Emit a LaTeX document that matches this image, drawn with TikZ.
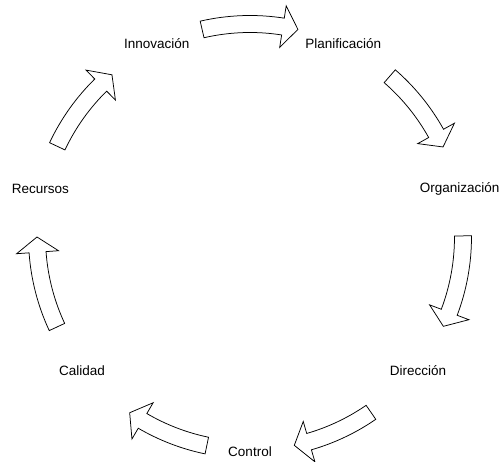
\documentclass[tikz,border=0pt]{standalone}
\usepackage{fontspec}
\setmainfont{Liberation Sans}
\usetikzlibrary{calc}
\begin{document}
\begin{tikzpicture}[x=1pt,y=1pt,
  lbl/.style={font=\fontsize{13.5}{15}\selectfont, inner sep=0pt},
  blockarrow/.style={draw=black, fill=white, line width=0.75pt, line join=miter}]
\useasboundingbox (0,0) rectangle (501,462);
\coordinate (c) at (250,225);
% labels on circle
\foreach \n/\t [count=\k from 0] in {ctrl/Control,dir/Dirección,org/Organización,plan/Planificación,inn/Innovación,rec/Recursos,cal/Calidad}{
  \pgfmathsetmacro{\ang}{-90+\k*360/7}
  \node[lbl] (\n) at ($(c)+(\ang:215)$) {\t};
}
% curved block arrows
\def\R{213}\def\w{8.5}\def\hw{21}\def\hl{4.1}
\foreach \s/\e [count=\i] in {103/77, 49/25, 0.3/-24.8, -55.4/-78, -101.7/-124.4, -155/-180, 154.8/130.4}{
  \pgfmathsetmacro{\hb}{\e+\hl}
  \pgfmathsetmacro{\ro}{\R+\w}
  \pgfmathsetmacro{\ri}{\R-\w}
  \pgfmathsetmacro{\ho}{\R+\hw}
  \pgfmathsetmacro{\hi}{\R-\hw}
  \draw[blockarrow] ($(c)+(\s:\ro)$) coordinate (a\i)
     arc[start angle=\s, end angle=\hb, radius=\ro]
     -- ($(c)+(\hb:\ho)$) -- ($(c)+(\e:\R)$) coordinate (t\i) -- ($(c)+(\hb:\hi)$)
     -- ($(c)+(\hb:\ri)$)
     arc[start angle=\hb, end angle=\s, radius=\ri] -- cycle;
}
\end{tikzpicture}
\end{document}
